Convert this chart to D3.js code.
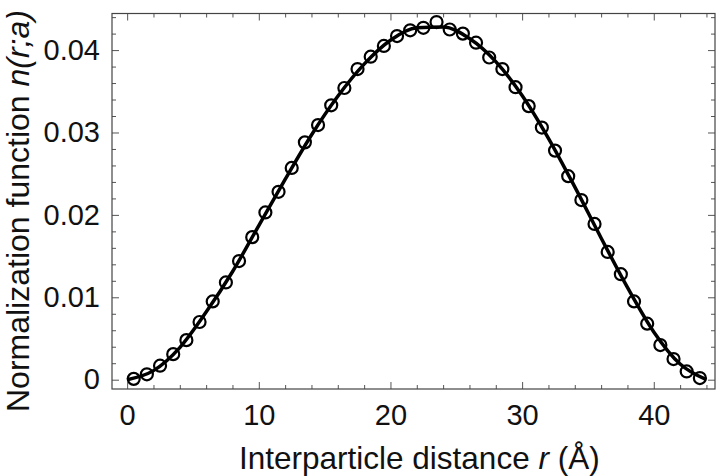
<!DOCTYPE html>
<html>
<head>
<meta charset="utf-8">
<script src="https://cdn.jsdelivr.net/npm/d3@7"></script>
<style>
  body { margin: 0; background: #fff; }
  svg { display: block; }
</style>
</head>
<body>
<svg id="chart" width="720" height="476"></svg>
<script>
// sample positions (Å) and measured normalization values (circles)
var rPoints = [0.5, 1.5, 2.5, 3.5, 4.5, 5.5, 6.5, 7.5, 8.5, 9.5, 10.5, 11.5, 12.5, 13.5, 14.5,
  15.5, 16.5, 17.5, 18.5, 19.5, 20.5, 21.5, 22.5, 23.5, 24.5, 25.5, 26.5, 27.5, 28.5, 29.5,
  30.5, 31.5, 32.5, 33.5, 34.5, 35.5, 36.5, 37.5, 38.5, 39.5, 40.5, 41.5, 42.5, 43.5];
var nPoints = [0.0001, 0.00065, 0.0017, 0.0031, 0.0048, 0.0070, 0.0095, 0.0118, 0.0144, 0.0173,
  0.0203, 0.0228, 0.0257, 0.0288, 0.0309, 0.0333, 0.0354, 0.0377, 0.0392, 0.0405,
  0.0417, 0.0424, 0.0427, 0.0434, 0.0425, 0.0420, 0.0409, 0.0391, 0.0377, 0.0355,
  0.0332, 0.0306, 0.0278, 0.0247, 0.0218, 0.0189, 0.0155, 0.0128, 0.0095, 0.0068,
  0.0042, 0.0025, 0.0010, 0.0002];

// smooth curve
var rCurve = [0, 2, 4, 6, 8, 10, 12, 14, 16, 18, 20, 22, 24, 26, 28, 30, 32, 34, 36, 38, 40, 42, 44];
var nCurve = [0, 0.0011, 0.0039, 0.0082, 0.0131, 0.0187, 0.0243, 0.0297, 0.0344, 0.0383, 0.0412,
  0.0427, 0.0428, 0.0414, 0.0386, 0.0345, 0.0293, 0.0234, 0.0172, 0.0112, 0.0058, 0.0019, 0];

var xMajor = [0, 10, 20, 30, 40];
var yMajor = [0, 0.01, 0.02, 0.03, 0.04];

var svg = d3.select('#chart');
var L = 112, R = 715, T = 13.5, B = 389;

var scX = d3.scaleLinear().domain([-1.15, 44.65]).range([L, R]);
var scY = d3.scaleLinear().domain([-0.00113, 0.04444]).range([B, T]);

var xMinor = d3.range(0, 45, 2).filter((v) => xMajor.indexOf(v) < 0);
var yMinor = d3.range(0, 0.0445, 0.002).filter((v) => yMajor.every((m) => Math.abs(m - v) > 1e-6));

var font = 'Liberation Sans, Arial, Helvetica, sans-serif';
var yFmt = (d) => (d === 0 ? '0' : d3.format('.2f')(d));

function styleAxis(g) {
  g.select('.domain').remove();
  g.selectAll('line').attr('stroke', '#555').attr('stroke-width', 1);
  g.selectAll('text').attr('font-family', font).attr('font-size', 29).attr('fill', '#111');
}

// major ticks with labels (bottom + left), inward
svg.append('g')
  .attr('transform', 'translate(0,' + B + ')')
  .call(d3.axisBottom(scX).tickValues(xMajor).tickSizeInner(-7).tickSizeOuter(0).tickPadding(15))
  .call(styleAxis);
svg.append('g')
  .attr('transform', 'translate(' + L + ',0)')
  .call(d3.axisLeft(scY).tickValues(yMajor).tickFormat(yFmt).tickSizeInner(-7).tickSizeOuter(0).tickPadding(12))
  .call(styleAxis);

// minor ticks and the unlabeled top/right sides
function ticksOnly(axis, vals, size, tr) {
  svg.append('g')
    .attr('transform', tr)
    .call(axis.tickValues(vals).tickFormat('').tickSizeInner(size).tickSizeOuter(0))
    .call(styleAxis);
}
ticksOnly(d3.axisBottom(scX), xMinor, -4, 'translate(0,' + B + ')');
ticksOnly(d3.axisLeft(scY), yMinor, -4, 'translate(' + L + ',0)');
ticksOnly(d3.axisTop(scX), xMajor, -7, 'translate(0,' + T + ')');
ticksOnly(d3.axisTop(scX), xMinor, -4, 'translate(0,' + T + ')');
ticksOnly(d3.axisRight(scY), yMajor, -7, 'translate(' + R + ',0)');
ticksOnly(d3.axisRight(scY), yMinor, -4, 'translate(' + R + ',0)');

// frame
svg.append('rect')
  .attr('x', L).attr('y', T)
  .attr('width', R - L).attr('height', B - T)
  .attr('fill', 'none')
  .attr('stroke', '#444')
  .attr('stroke-width', 1.2);

// fitted curve
var lnMkr = d3.line()
  .x((d) => scX(d[0]))
  .y((d) => scY(d[1]))
  .curve(d3.curveMonotoneX);
svg.append('path')
  .attr('d', lnMkr(rCurve.map((r, i) => [r, nCurve[i]])))
  .attr('fill', 'none')
  .attr('stroke', '#000')
  .attr('stroke-width', 3.5);

// data circles
svg.append('g')
  .selectAll('circle')
  .data(rPoints.map((r, i) => [r, nPoints[i]]))
  .enter()
  .append('circle')
  .attr('cx', (d) => scX(d[0]))
  .attr('cy', (d) => scY(d[1]))
  .attr('r', 6)
  .attr('fill', 'none')
  .attr('stroke', '#000')
  .attr('stroke-width', 2.2);

// axis titles
var xt = svg.append('text')
  .attr('x', 239).attr('y', 469)
  .attr('font-family', font).attr('font-size', 31.5).attr('fill', '#111');
xt.append('tspan').text('Interparticle distance ');
xt.append('tspan').attr('font-style', 'italic').text('r');
xt.append('tspan').text(' (Å)');

var yt = svg.append('text')
  .attr('transform', 'translate(29,412) rotate(-90)')
  .attr('font-family', font).attr('font-size', 32).attr('fill', '#111');
yt.append('tspan').text('Normalization function ');
yt.append('tspan').attr('font-style', 'italic').text('n(r;a)');
</script>
</body>
</html>
